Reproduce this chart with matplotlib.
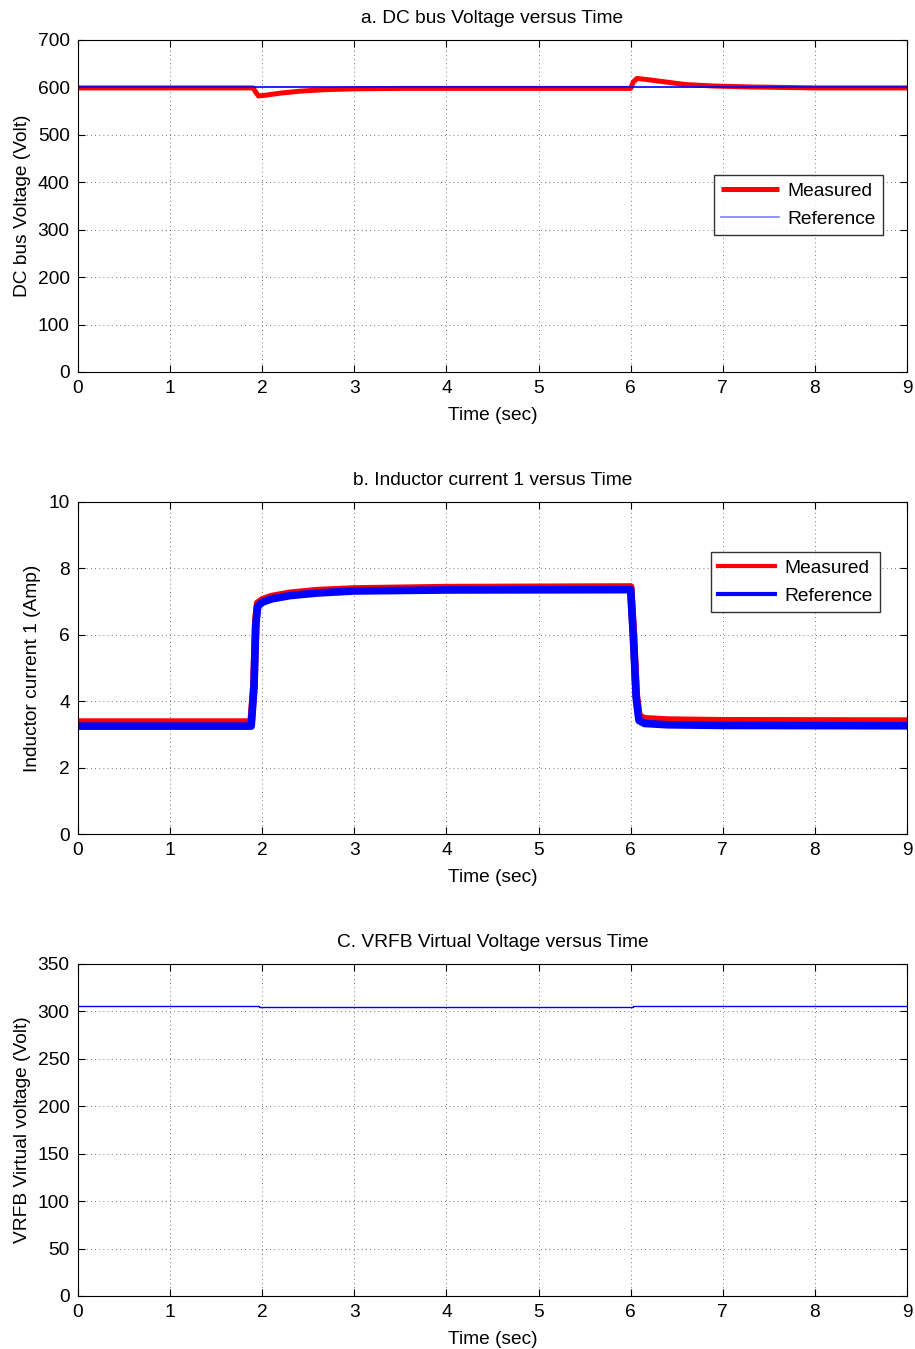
import matplotlib
matplotlib.use("Agg")
import matplotlib.pyplot as plt

plt.rcParams['font.family'] = ['Liberation Sans', 'DejaVu Sans']

# ---- Panel a: DC bus voltage ----
t_a_meas = [0, 1.90, 1.93, 1.96, 2.05, 2.2, 2.4, 2.7, 3.0, 3.5, 6.00, 6.03, 6.07, 6.2, 6.4, 6.6, 6.9, 7.3, 8.0, 9.0]
v_a_meas = [599, 599, 590, 582, 584, 588, 592, 595.5, 597, 598, 598, 612, 619, 616, 611, 606, 603, 601, 599, 599]
t_a_ref = [0, 9.0]
v_a_ref = [600, 600]

# ---- Panel b: inductor current 1 ----
t_b_meas = [0, 1.88, 1.91, 1.93, 1.95, 2.0, 2.1, 2.3, 2.6, 3.0, 4.0, 6.00, 6.03, 6.06, 6.09, 6.15, 6.4, 7.0, 9.0]
i_b_meas = [3.37, 3.37, 4.5, 6.4, 6.95, 7.05, 7.15, 7.25, 7.33, 7.38, 7.42, 7.44, 6.0, 4.2, 3.55, 3.47, 3.43, 3.41, 3.40]
t_b_ref = [0, 1.88, 1.91, 1.93, 1.95, 2.0, 2.1, 2.3, 2.6, 3.0, 4.0, 6.00, 6.03, 6.06, 6.09, 6.15, 6.4, 7.0, 9.0]
i_b_ref = [3.25, 3.25, 4.4, 6.3, 6.85, 6.98, 7.08, 7.18, 7.26, 7.32, 7.35, 7.36, 5.9, 4.1, 3.42, 3.33, 3.29, 3.27, 3.26]

# ---- Panel c: VRFB virtual voltage ----
t_c = [0, 0.25, 0.25, 1.97, 1.97, 6.03, 6.03, 9.0]
v_c = [306.2, 306.2, 305.5, 305.5, 304.8, 304.8, 305.3, 305.3]

titles = ["a. DC bus Voltage versus Time",
          "b. Inductor current 1 versus Time",
          "C. VRFB Virtual Voltage versus Time"]
ylabels = ["DC bus Voltage (Volt)", "Inductor current 1 (Amp)", "VRFB Virtual voltage (Volt)"]
xticks = list(range(0, 10))
yticks_a = list(range(0, 701, 100))
yticks_b = list(range(0, 11, 2))
yticks_c = list(range(0, 351, 50))

FS = 13.8
W, H = 915, 1349
fig = plt.figure(figsize=(W / 100, H / 100), dpi=100)

def make_ax(top, bottom):
    left, right = 78, 907
    return fig.add_axes([left / W, 1 - bottom / H, (right - left) / W, (bottom - top) / H])

axes = [make_ax(40, 372), make_ax(502, 834), make_ax(964, 1296)]

for ax, title, yl in zip(axes, titles, ylabels):
    ax.set_title(title, fontsize=FS, pad=12)
    ax.set_xlabel("Time (sec)", fontsize=FS, labelpad=7)
    ax.set_ylabel(yl, fontsize=FS, labelpad=5)
    ax.set_xlim(0, 9)
    ax.set_xticks(xticks)
    ax.grid(True, color='black', linestyle=(0, (1, 4)), linewidth=0.6, alpha=0.7)
    ax.tick_params(direction='in', top=True, right=True, labelsize=FS, length=5, width=0.8, pad=6)
    for s in ax.spines.values():
        s.set_linewidth(0.8)

def style_legend(leg):
    leg.get_frame().set_linewidth(1.0)

ax = axes[0]
ax.plot(t_a_meas, v_a_meas, color='red', lw=3.6, label='Measured', solid_capstyle='butt')
ax.plot(t_a_ref, v_a_ref, color='blue', lw=1.2, label='Reference')
ax.set_ylim(0, 700)
ax.set_yticks(yticks_a)
leg = ax.legend(loc='upper right', bbox_to_anchor=(0.971, 0.593), fontsize=FS, frameon=True,
                fancybox=False, edgecolor='black', handlelength=3.0, borderpad=0.38,
                labelspacing=0.55, handletextpad=0.45, borderaxespad=0)
style_legend(leg)
leg.get_lines()[1].set_color('#7f7fff')

ax = axes[1]
ax.plot(t_b_meas, i_b_meas, color='red', lw=5.5, label='Measured')
ax.plot(t_b_ref, i_b_ref, color='blue', lw=5.5, label='Reference')
ax.set_ylim(0, 10)
ax.set_yticks(yticks_b)
leg = ax.legend(loc='upper right', bbox_to_anchor=(0.967, 0.849), fontsize=FS, frameon=True,
                fancybox=False, edgecolor='black', handlelength=3.0, borderpad=0.38,
                labelspacing=0.55, handletextpad=0.45, borderaxespad=0)
style_legend(leg)
for l in leg.get_lines():
    l.set_linewidth(3)

ax = axes[2]
ax.plot(t_c, v_c, color='blue', lw=1.0)
ax.set_ylim(0, 350)
ax.set_yticks(yticks_c)

fig.savefig("out.png", dpi=100)
